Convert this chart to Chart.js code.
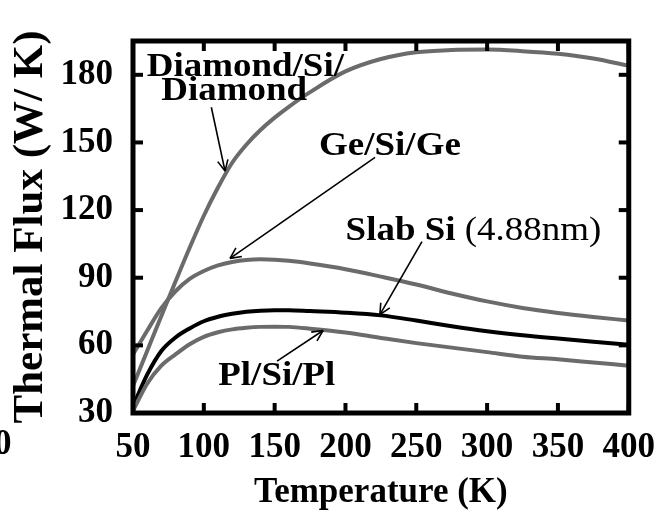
<!DOCTYPE html>
<html>
<head>
<meta charset="utf-8">
<script src="https://cdn.jsdelivr.net/npm/chart.js@4.4.1/dist/chart.umd.min.js"></script>
<style>
  html, body { margin: 0; padding: 0; background: #fff; }
  #wrap { width: 669px; height: 518px; }
</style>
</head>
<body>
<div id="wrap"><canvas id="chart" width="669" height="518"></canvas></div>
<script>
// values (temperature in K, thermal flux in W/K)
const temps   = [50, 60, 70, 80, 90, 100, 110, 120, 130, 140, 150, 160, 175, 200, 225, 250, 275, 300, 325, 350, 375, 400];
const diamond = [42, 57.5, 73, 88.3, 103.3, 117.5, 130, 141, 149, 155.5, 161, 165.8, 172.3, 181.5, 187, 190, 191, 191.2, 190.5, 189.3, 187.2, 184];
const geSiGe  = [56, 66.5, 76.5, 84, 89.5, 93, 95.5, 97, 97.9, 98.2, 98, 97.5, 96.3, 93.8, 90.5, 87, 83, 79.5, 76.6, 74.4, 72.6, 71];
const slabSi  = [33, 47, 57.5, 63.5, 67.5, 70.7, 72.7, 74, 74.9, 75.4, 75.6, 75.6, 75.2, 74.5, 73.3, 71, 68.5, 66.3, 64.5, 63, 61.6, 60.3];
const plSiPl  = [31, 43, 51, 56, 60.5, 63.8, 65.8, 67.1, 67.8, 68.2, 68.3, 68.2, 67.4, 65.7, 63.3, 61, 59, 57, 55, 53.8, 52.4, 51];

const xTicks = [50, 100, 150, 200, 250, 300, 350, 400];
const yTicks = [30, 60, 90, 120, 150, 180];

// text labels (anchored in data units) and arrows (data units)
const notes = [
  { t: 59.7,  v: 179.6, parts: [['Diamond/Si/', 'bold']] },
  { t: 70,    v: 168.9, parts: [['Diamond', 'bold']] },
  { t: 181.4, v: 144.6, parts: [['Ge/Si/Ge', 'bold']] },
  { t: 200.1, v: 106.9, parts: [['Slab Si ', 'bold'], ['(4.88nm)', 'normal']] },
  { t: 110.2, v: 42.3,  parts: [['Pl/Si/Pl', 'bold']] }
];
const arrows = [
  [105.3, 165.6, 115, 137.3],
  [220.9, 143.4, 118.5, 98.6],
  [254, 106, 224.3, 73.6],
  [151.7, 53, 184.2, 66.6]
];

const FONT = '"Liberation Serif", "Times New Roman", serif';
const GRAY = '#6b6b6b';

function pts(ys){ return temps.map((t, i) => ({x: t, y: ys[i]})); }

function seg(ctx, x1, y1, x2, y2){
  ctx.beginPath(); ctx.moveTo(x1, y1); ctx.lineTo(x2, y2); ctx.stroke();
}

const framePlugin = {
  id: 'frame',
  afterDatasetsDraw(chart){
    const {ctx, chartArea: a, scales: {x, y}} = chart;
    ctx.save();

    // labels, slightly stretched like the original scan
    ctx.fillStyle = '#000';
    ctx.textBaseline = 'alphabetic';
    ctx.textAlign = 'left';
    const sx = 1.12;
    notes.forEach(n => {
      let px = x.getPixelForValue(n.t);
      const py = y.getPixelForValue(n.v);
      n.parts.forEach(([txt, w]) => {
        ctx.font = w + ' 33px ' + FONT;
        ctx.save();
        ctx.translate(px, py);
        ctx.scale(sx, 1);
        ctx.fillText(txt, 0, 0);
        ctx.restore();
        px += ctx.measureText(txt).width * sx;
      });
    });

    // arrows
    ctx.strokeStyle = '#000';
    ctx.lineWidth = 1.6;
    arrows.forEach(([t1, v1, t2, v2]) => {
      const x1 = x.getPixelForValue(t1), y1 = y.getPixelForValue(v1);
      const x2 = x.getPixelForValue(t2), y2 = y.getPixelForValue(v2);
      seg(ctx, x1, y1, x2, y2);
      const ang = Math.atan2(y2 - y1, x2 - x1);
      const hl = 12, spread = 0.45;
      seg(ctx, x2, y2, x2 - hl * Math.cos(ang - spread), y2 - hl * Math.sin(ang - spread));
      seg(ctx, x2, y2, x2 - hl * Math.cos(ang + spread), y2 - hl * Math.sin(ang + spread));
    });

    // box
    ctx.lineWidth = 5;
    ctx.strokeRect(a.left, a.top, a.right - a.left, a.bottom - a.top);

    // inward ticks on all four sides
    ctx.lineWidth = 4;
    const len = 10;
    xTicks.forEach(t => {
      const px = x.getPixelForValue(t);
      seg(ctx, px, a.bottom, px, a.bottom - len);
      seg(ctx, px, a.top, px, a.top + len);
    });
    yTicks.forEach(v => {
      const py = y.getPixelForValue(v);
      seg(ctx, a.left, py, a.left + len, py);
      seg(ctx, a.right, py, a.right - len, py);
    });

    // cut-off digit from the neighbouring panel
    ctx.font = 'bold 35px ' + FONT;
    ctx.textBaseline = 'middle';
    ctx.fillText('0', -6, a.bottom + 32);

    ctx.restore();
  }
};

new Chart(document.getElementById('chart'), {
  type: 'line',
  data: {
    datasets: [
      { label: 'Diamond/Si/Diamond', data: pts(diamond), borderColor: GRAY },
      { label: 'Ge/Si/Ge', data: pts(geSiGe), borderColor: GRAY },
      { label: 'Pl/Si/Pl', data: pts(plSiPl), borderColor: GRAY },
      { label: 'Slab Si (4.88nm)', data: pts(slabSi), borderColor: '#000' }
    ]
  },
  options: {
    responsive: false,
    animation: false,
    layout: { padding: { left: 0, right: 30, top: 12, bottom: 0 } },
    elements: {
      point: { radius: 0 },
      line: { borderWidth: 4, cubicInterpolationMode: 'monotone', fill: false }
    },
    plugins: { legend: { display: false }, tooltip: { enabled: false } },
    scales: {
      x: {
        type: 'linear', min: 50, max: 400,
        grid: { display: false, drawTicks: false },
        border: { display: false },
        afterBuildTicks: s => { s.ticks = xTicks.map(v => ({ value: v })); },
        afterFit: s => { s.height = 105; },
        ticks: { color: '#000', padding: 14, maxRotation: 0, autoSkip: false,
                 font: { family: FONT, size: 35, weight: 'bold' } },
        title: { display: true, text: 'Temperature (K)', color: '#000',
                 font: { family: FONT, size: 35, weight: 'bold' }, padding: { top: 0, bottom: 4 } }
      },
      y: {
        type: 'linear', min: 30, max: 195,
        grid: { display: false, drawTicks: false },
        border: { display: false },
        afterBuildTicks: s => { s.ticks = yTicks.map(v => ({ value: v })); },
        afterFit: s => { s.width = 133; },
        ticks: { color: '#000', padding: 20,
                 font: { family: FONT, size: 35, weight: 'bold' } },
        title: { display: true, text: 'Thermal Flux (W/ K)', color: '#000',
                 font: { family: FONT, size: 43, weight: 'bold' }, padding: { top: 5, bottom: 0 } }
      }
    }
  },
  plugins: [framePlugin]
});
</script>
</body>
</html>
